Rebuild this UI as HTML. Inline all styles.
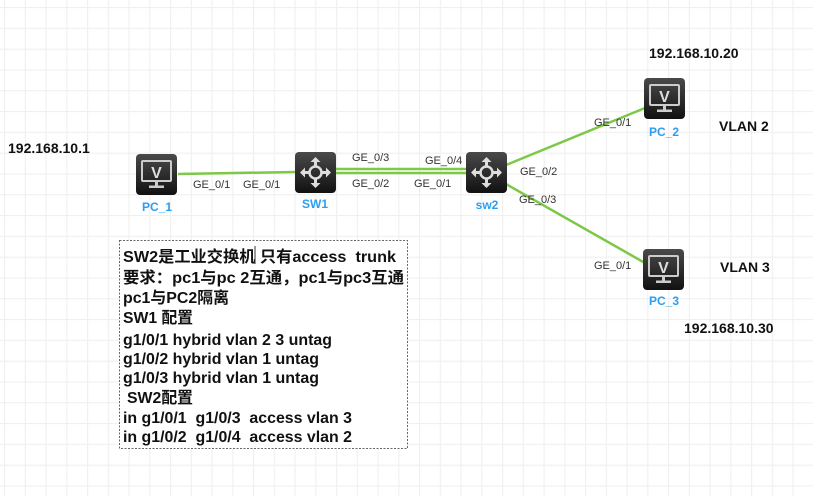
<!DOCTYPE html>
<html><head><meta charset="utf-8"><style>
html,body{margin:0;padding:0;background:#fff;}
svg{display:block;}
.t{font-family:"Liberation Sans","Noto Sans CJK SC",sans-serif;}
.pre text{white-space:pre;}
</style></head><body>
<svg width="813" height="496" viewBox="0 0 813 496" xmlns="http://www.w3.org/2000/svg">
<defs>
<pattern id="g" x="4" y="7" width="20.75" height="20.8" patternUnits="userSpaceOnUse">
<path d="M0.5 0V20.8M0 0.5H20.75" stroke="#f0f0f0" stroke-width="1.3" fill="none"/>
</pattern>
<linearGradient id="dk" x1="0" y1="0" x2="0" y2="1">
<stop offset="0" stop-color="#4a4a4a"/><stop offset="1" stop-color="#111"/>
</linearGradient>
<g id="pc">
<rect x="0" y="0" width="41" height="41" rx="4" fill="url(#dk)"/>
<rect x="6" y="7" width="29" height="20" rx="1" fill="none" stroke="#ccc" stroke-width="2"/>
<text x="20.5" y="24" text-anchor="middle" font-family="Liberation Sans" font-weight="bold" font-size="16" fill="#ddd">V</text>
<rect x="19" y="27" width="3" height="5" fill="#ccc"/>
<rect x="13" y="31.5" width="15" height="2.5" fill="#ccc"/>
</g>
<g id="sw">
<rect x="0" y="0" width="41" height="41" rx="4" fill="url(#dk)"/>
<g fill="#ddd" stroke="none">
<circle cx="20.5" cy="20.5" r="6" fill="none" stroke="#ddd" stroke-width="2.5"/>
<path d="M20.5 5l-5 5h3.5v4h3v-4h3.5z"/>
<path d="M20.5 36l-5-5h3.5v-4h3v4h3.5z"/>
<path d="M5 20.5l5-5v3.5h4v3h-4v3.5z"/>
<path d="M36 20.5l-5-5v3.5h-4v3h4v3.5z"/>
</g>
</g>
</defs>
<rect width="813" height="496" fill="url(#g)"/>
<g stroke="#7dc846" stroke-width="2.5" fill="none">
<line x1="178" y1="174" x2="295" y2="172"/>
<line x1="336" y1="169" x2="466" y2="169"/>
<line x1="336" y1="173" x2="466" y2="173"/>
<line x1="506" y1="165" x2="645" y2="108"/>
<line x1="506" y1="184" x2="645" y2="263"/>
</g>
<use href="#pc" x="136" y="154"/>
<use href="#sw" x="295" y="152"/>
<use href="#sw" x="466" y="152"/>
<use href="#pc" x="644" y="78"/>
<use href="#pc" x="643" y="249"/>
<g class="t" font-size="11" fill="#333">
<text x="193" y="188">GE_0/1</text>
<text x="243" y="188">GE_0/1</text>
<text x="352" y="161">GE_0/3</text>
<text x="425" y="164">GE_0/4</text>
<text x="352" y="187">GE_0/2</text>
<text x="414" y="187">GE_0/1</text>
<text x="520" y="175">GE_0/2</text>
<text x="519" y="203">GE_0/3</text>
<text x="594" y="126">GE_0/1</text>
<text x="594" y="269">GE_0/1</text>
</g>
<g class="t" font-size="12" font-weight="bold" fill="#2b9ef0" text-anchor="middle">
<text x="157" y="211">PC_1</text>
<text x="315" y="208">SW1</text>
<text x="487" y="209">sw2</text>
<text x="664" y="136">PC_2</text>
<text x="664" y="305">PC_3</text>
</g>
<g class="t" font-size="14" font-weight="bold" fill="#111">
<text x="8" y="153">192.168.10.1</text>
<text x="649" y="58">192.168.10.20</text>
<text x="719" y="131">VLAN 2</text>
<text x="720" y="272">VLAN 3</text>
<text x="684" y="333">192.168.10.30</text>
</g>
<rect x="119.5" y="240.5" width="288" height="208" fill="#fff" stroke="#666" stroke-dasharray="2,1.5"/>
<g class="t pre" font-size="16" font-weight="bold" fill="#111" xml:space="preserve">
<text x="123" y="262" textLength="273" lengthAdjust="spacingAndGlyphs">SW2是工业交换机 只有access  trunk</text>
<text x="123" y="283" textLength="281" lengthAdjust="spacingAndGlyphs">要求：pc1与pc 2互通，pc1与pc3互通</text>
<text x="123" y="303" textLength="106" lengthAdjust="spacingAndGlyphs">pc1与PC2隔离</text>
<text x="123" y="323" textLength="70" lengthAdjust="spacingAndGlyphs">SW1 配置</text>
<text x="123" y="345" textLength="209" lengthAdjust="spacingAndGlyphs">g1/0/1 hybrid vlan 2 3 untag</text>
<text x="123" y="364" textLength="196" lengthAdjust="spacingAndGlyphs">g1/0/2 hybrid vlan 1 untag</text>
<text x="123" y="383" textLength="196" lengthAdjust="spacingAndGlyphs">g1/0/3 hybrid vlan 1 untag</text>
<text x="127" y="403" textLength="66" lengthAdjust="spacingAndGlyphs">SW2配置</text>
<text x="123" y="423" textLength="229" lengthAdjust="spacingAndGlyphs">in g1/0/1  g1/0/3  access vlan 3</text>
<text x="123" y="442" textLength="229" lengthAdjust="spacingAndGlyphs">in g1/0/2  g1/0/4  access vlan 2</text>
</g>
<line x1="255" y1="246" x2="255" y2="264" stroke="#333" stroke-width="1"/>
</svg>
</body></html>
